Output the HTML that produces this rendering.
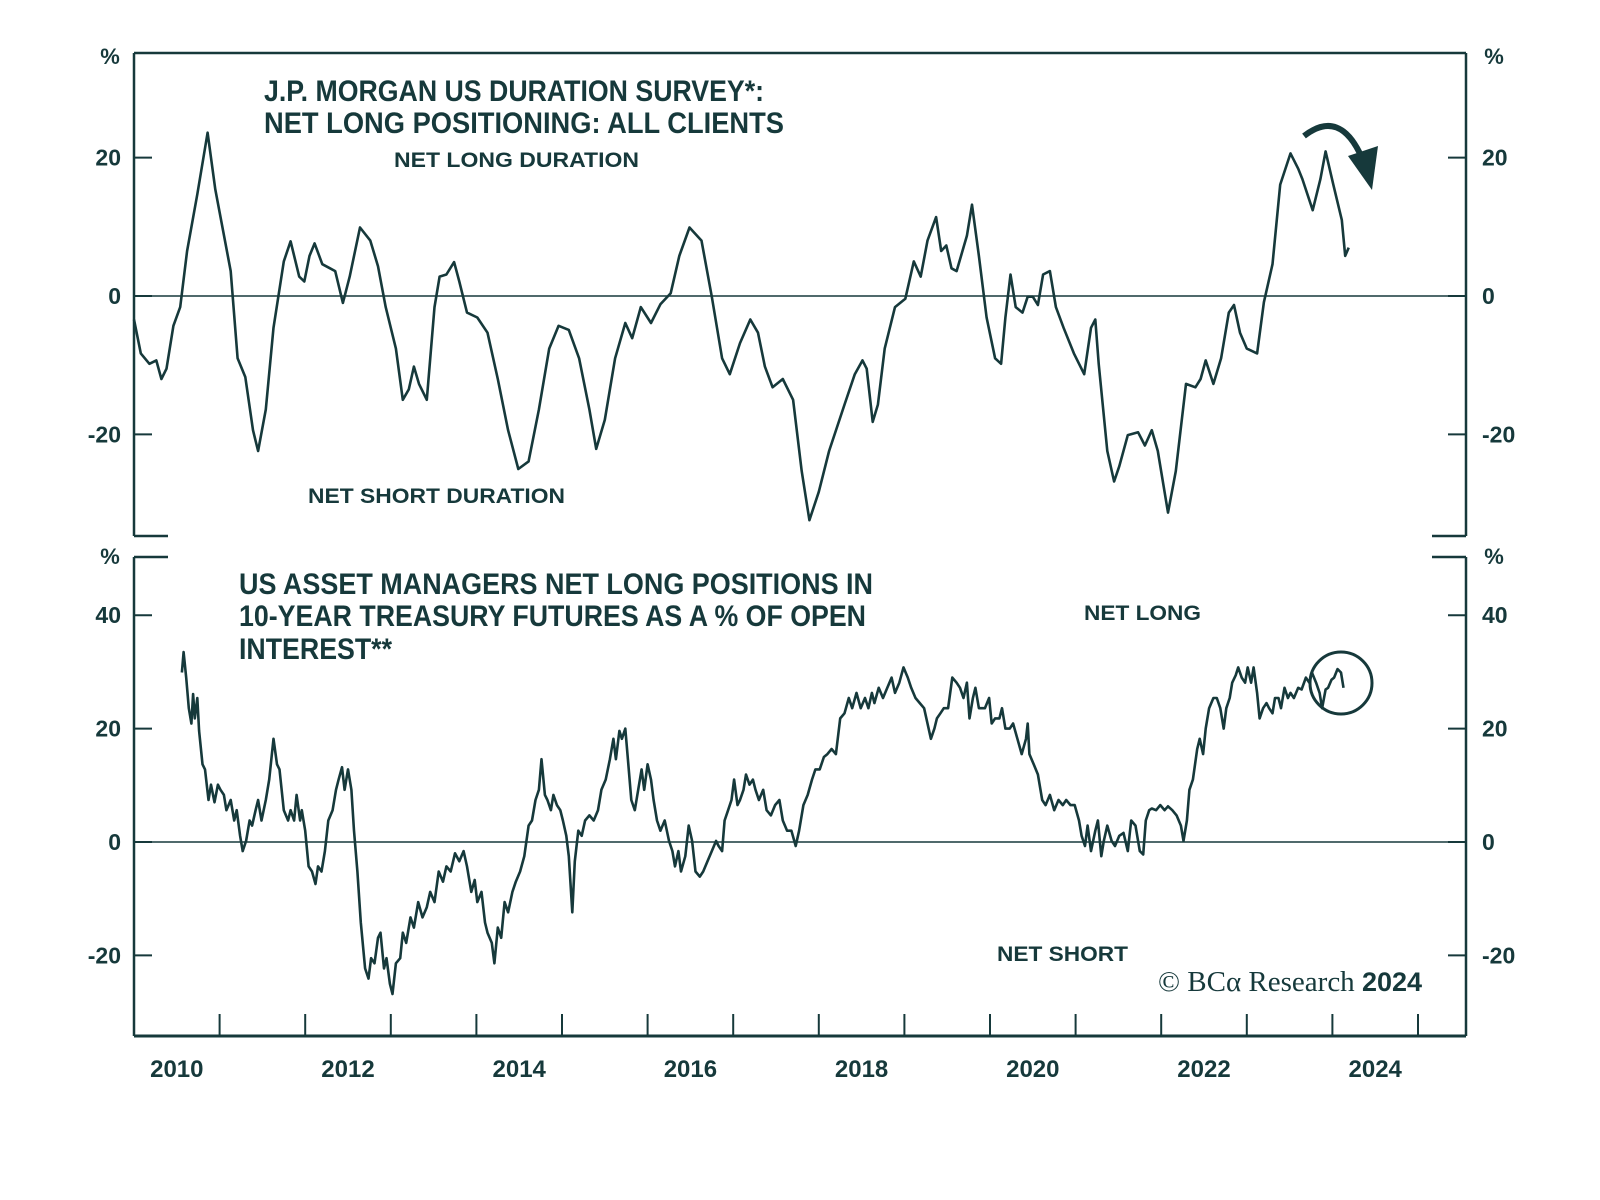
<!DOCTYPE html>
<html><head><meta charset="utf-8"><style>
html,body{margin:0;padding:0;background:#fff;}
svg{display:block;}
text{fill:#16393b;font-family:"Liberation Sans",sans-serif;font-weight:bold;}
</style></head><body>
<svg id="chart" width="1600" height="1200" viewBox="0 0 1600 1200" xmlns="http://www.w3.org/2000/svg">
<g id="frame"></g>
<g id="texts">
<text x="264" y="101" font-size="30" textLength="500" lengthAdjust="spacingAndGlyphs">J.P. MORGAN US DURATION SURVEY*:</text>
<text x="264" y="133" font-size="30" textLength="520" lengthAdjust="spacingAndGlyphs">NET LONG POSITIONING: ALL CLIENTS</text>
<text x="394" y="167" font-size="21" textLength="245" lengthAdjust="spacingAndGlyphs">NET LONG DURATION</text>
<text x="308" y="503" font-size="21" textLength="257" lengthAdjust="spacingAndGlyphs">NET SHORT DURATION</text>
<text x="239" y="594" font-size="30" textLength="634" lengthAdjust="spacingAndGlyphs">US ASSET MANAGERS NET LONG POSITIONS IN</text>
<text x="239" y="626" font-size="30" textLength="627" lengthAdjust="spacingAndGlyphs">10-YEAR TREASURY FUTURES AS A % OF OPEN</text>
<text x="239" y="659" font-size="30" textLength="153" lengthAdjust="spacingAndGlyphs">INTEREST**</text>
<text x="1084" y="620" font-size="21" textLength="117" lengthAdjust="spacingAndGlyphs">NET LONG</text>
<text x="997" y="961" font-size="21" textLength="131" lengthAdjust="spacingAndGlyphs">NET SHORT</text>
<text x="1158" y="991" font-size="29" style="font-family:'Liberation Serif',serif;font-weight:normal">© BCα Research <tspan style="font-family:'Liberation Sans',sans-serif;font-weight:bold" font-size="27">2024</tspan></text>
</g>
<g id="annot">
<path d="M1304,136 Q1340,108 1362,158" fill="none" stroke="#16393b" stroke-width="6"/>
<polygon points="1348,156 1378,146 1372,190" fill="#16393b"/>
<circle cx="1341" cy="683" r="31" fill="none" stroke="#16393b" stroke-width="3"/>
</g>
<g id="series"></g>
</svg>
<script>
const topDates=[2010.00,2010.08,2010.18,2010.26,2010.32,2010.38,2010.46,2010.54,2010.62,2010.74,2010.86,2010.95,2011.04,2011.13,2011.21,2011.30,2011.39,2011.45,2011.54,2011.63,2011.75,2011.83,2011.93,2011.99,2012.05,2012.11,2012.20,2012.29,2012.35,2012.44,2012.52,2012.64,2012.76,2012.85,2012.94,2013.06,2013.14,2013.21,2013.27,2013.33,2013.42,2013.51,2013.57,2013.65,2013.74,2013.80,2013.89,2014.01,2014.13,2014.25,2014.37,2014.49,2014.61,2014.73,2014.85,2014.96,2015.08,2015.20,2015.32,2015.40,2015.50,2015.62,2015.74,2015.82,2015.92,2016.04,2016.15,2016.27,2016.37,2016.49,2016.63,2016.75,2016.87,2016.96,2017.08,2017.20,2017.29,2017.37,2017.46,2017.58,2017.70,2017.80,2017.89,2018.00,2018.12,2018.30,2018.42,2018.51,2018.56,2018.63,2018.69,2018.77,2018.89,2019.01,2019.11,2019.19,2019.27,2019.37,2019.43,2019.49,2019.55,2019.61,2019.73,2019.79,2019.87,2019.96,2020.06,2020.13,2020.18,2020.24,2020.30,2020.38,2020.44,2020.50,2020.56,2020.62,2020.70,2020.77,2020.86,2020.98,2021.10,2021.18,2021.23,2021.27,2021.37,2021.45,2021.51,2021.61,2021.73,2021.81,2021.89,2021.96,2022.08,2022.17,2022.29,2022.40,2022.46,2022.52,2022.61,2022.70,2022.79,2022.85,2022.92,2023.00,2023.12,2023.20,2023.30,2023.39,2023.51,2023.60,2023.65,2023.77,2023.86,2023.92,2024.01,2024.11,2024.15,2024.19];
const topValues=[-3.4,-8.3,-9.8,-9.3,-12.0,-10.5,-4.3,-1.6,6.5,14.7,23.6,15.4,9.5,3.6,-9.0,-11.7,-19.4,-22.4,-16.4,-4.6,5.0,7.9,2.8,2.1,5.8,7.6,4.6,4.0,3.6,-1.0,2.8,9.9,8.0,4.3,-1.6,-7.6,-15.0,-13.5,-10.2,-12.7,-15.0,-1.6,2.8,3.1,4.9,2.1,-2.4,-3.1,-5.3,-12.0,-19.4,-25.0,-23.9,-16.4,-7.6,-4.3,-4.9,-9.0,-16.4,-22.1,-17.9,-9.0,-3.9,-6.1,-1.6,-3.9,-1.2,0.4,5.8,9.9,8.0,-0.1,-9.0,-11.3,-6.8,-3.4,-5.3,-10.2,-13.2,-12.0,-15.0,-25.3,-32.4,-28.3,-22.4,-15.7,-11.3,-9.3,-10.5,-18.2,-15.7,-7.6,-1.6,-0.4,5.0,2.8,8.0,11.4,6.5,7.3,4.0,3.6,8.7,13.2,5.8,-3.1,-9.0,-9.8,-3.1,3.1,-1.6,-2.4,-0.1,-0.1,-1.3,3.1,3.6,-1.6,-4.6,-8.3,-11.3,-4.6,-3.4,-9.8,-22.4,-26.8,-24.6,-20.1,-19.7,-21.6,-19.4,-22.4,-31.3,-25.3,-12.7,-13.2,-12.0,-9.3,-12.7,-9.0,-2.4,-1.3,-5.3,-7.6,-8.3,-0.9,4.6,16.1,20.6,18.4,16.9,12.4,16.9,20.9,16.1,11.0,5.8,7.0];
const bottomYearOffset=[0.56,0.58,0.61,0.64,0.67,0.69,0.71,0.74,0.76,0.80,0.83,0.87,0.90,0.94,0.98,1.01,1.05,1.08,1.13,1.17,1.20,1.24,1.27,1.31,1.35,1.38,1.42,1.45,1.49,1.54,1.58,1.63,1.67,1.70,1.75,1.80,1.83,1.87,1.90,1.94,1.96,2.00,2.04,2.08,2.12,2.15,2.19,2.23,2.27,2.32,2.36,2.39,2.43,2.46,2.50,2.54,2.57,2.61,2.65,2.70,2.74,2.77,2.81,2.85,2.88,2.92,2.95,2.99,3.02,3.06,3.11,3.14,3.18,3.23,3.27,3.32,3.37,3.42,3.46,3.51,3.56,3.61,3.65,3.70,3.75,3.80,3.85,3.89,3.94,3.98,4.01,4.06,4.10,4.13,4.18,4.21,4.25,4.29,4.33,4.37,4.42,4.46,4.51,4.56,4.61,4.65,4.69,4.73,4.76,4.80,4.83,4.87,4.90,4.94,4.98,5.01,5.05,5.08,5.12,5.15,5.19,5.23,5.27,5.32,5.37,5.42,5.46,5.51,5.56,5.60,5.63,5.67,5.70,5.74,5.77,5.81,5.85,5.89,5.93,5.96,6.00,6.04,6.07,6.11,6.15,6.20,6.25,6.29,6.32,6.36,6.39,6.44,6.48,6.52,6.56,6.61,6.65,6.70,6.75,6.80,6.83,6.87,6.90,6.94,6.98,7.01,7.05,7.08,7.12,7.15,7.19,7.23,7.26,7.30,7.35,7.39,7.44,7.49,7.54,7.58,7.63,7.68,7.73,7.77,7.82,7.87,7.92,7.96,8.01,8.06,8.10,8.15,8.20,8.25,8.30,8.35,8.39,8.44,8.49,8.54,8.58,8.62,8.65,8.70,8.75,8.80,8.85,8.89,8.94,8.99,9.04,9.08,9.13,9.18,9.23,9.27,9.31,9.35,9.38,9.42,9.46,9.51,9.56,9.61,9.65,9.69,9.73,9.76,9.80,9.83,9.87,9.90,9.94,9.99,10.02,10.06,10.11,10.14,10.18,10.23,10.27,10.32,10.37,10.42,10.44,10.46,10.51,10.56,10.61,10.65,10.70,10.75,10.80,10.85,10.89,10.94,10.99,11.04,11.07,11.11,11.14,11.18,11.23,11.26,11.30,11.33,11.37,11.42,11.46,11.51,11.56,11.61,11.65,11.70,11.75,11.79,11.82,11.86,11.89,11.94,11.99,12.04,12.08,12.13,12.18,12.23,12.26,12.30,12.33,12.37,12.42,12.45,12.49,12.52,12.56,12.61,12.65,12.69,12.73,12.76,12.80,12.83,12.87,12.90,12.94,12.98,13.01,13.05,13.08,13.12,13.15,13.19,13.23,13.26,13.30,13.33,13.37,13.40,13.44,13.48,13.51,13.55,13.60,13.64,13.69,13.73,13.76,13.81,13.85,13.88,13.92,13.95,13.99,14.02,14.06,14.10,14.13];
const bottomValues=[29.9,33.5,29.0,23.6,20.9,26.1,21.8,25.4,19.6,13.7,12.8,7.4,10.1,7.0,10.1,9.2,8.3,5.6,7.4,3.8,5.6,1.1,-1.6,0.2,3.8,2.9,5.6,7.4,3.8,7.4,11.0,18.2,13.7,12.8,5.6,3.8,5.6,3.8,8.3,3.8,5.6,2.0,-4.3,-5.2,-7.4,-4.3,-5.2,-1.6,3.8,5.6,9.2,11.0,13.2,9.2,12.8,9.2,2.0,-5.2,-14.2,-22.3,-24.1,-20.5,-21.4,-16.9,-16.0,-22.3,-20.5,-25.0,-26.8,-21.4,-20.5,-16.0,-17.8,-13.3,-15.1,-10.6,-13.3,-11.5,-8.8,-10.6,-5.2,-7.0,-4.3,-5.2,-2.0,-3.4,-1.6,-4.3,-8.8,-6.7,-10.6,-8.8,-14.2,-16.0,-17.8,-21.4,-15.1,-16.9,-10.6,-12.4,-8.8,-7.0,-5.2,-2.5,2.9,3.8,7.4,9.2,14.6,8.3,7.4,5.6,8.3,6.5,5.6,3.8,1.1,-2.5,-12.4,-3.4,2.0,1.1,3.8,4.7,3.8,5.6,9.2,11.0,14.6,18.2,14.6,19.6,18.2,20.0,14.6,7.4,5.6,9.2,12.8,9.2,13.7,11.0,7.4,3.8,2.0,3.8,0.2,-1.6,-4.3,-1.6,-5.2,-2.5,2.9,0.2,-5.2,-6.1,-5.2,-3.4,-1.6,0.2,-0.7,-1.6,3.8,5.6,7.4,11.0,6.5,7.4,9.2,11.9,10.1,11.0,9.2,7.4,9.2,5.6,4.7,6.5,7.4,3.8,2.0,2.0,-0.7,2.0,6.5,8.3,11.0,12.8,12.8,15.0,15.5,16.4,15.5,21.8,22.7,25.4,23.6,26.3,23.6,25.4,23.6,26.3,24.5,27.2,25.4,27.2,29.0,26.3,28.1,30.8,29.0,27.2,25.4,24.5,23.6,20.9,18.2,20.0,21.8,22.7,23.6,23.6,29.0,28.1,27.2,25.4,28.1,21.8,25.4,27.2,23.6,23.6,23.6,25.4,20.9,21.8,21.8,23.6,20.0,20.0,20.9,18.2,15.5,18.2,20.9,15.5,13.7,11.9,7.4,6.5,8.3,5.6,7.4,6.5,7.4,6.5,6.5,3.8,1.1,-0.7,2.9,-1.6,2.0,3.8,-2.5,0.2,2.9,0.2,-0.7,1.1,1.6,-1.6,3.8,2.9,-1.6,-2.2,3.8,5.6,5.9,5.6,6.5,5.6,6.3,5.6,4.7,2.9,0.2,3.8,9.2,11.0,16.4,18.2,15.5,20.0,23.6,25.4,25.4,23.6,20.0,23.6,25.4,28.1,29.4,30.8,29.0,28.1,30.8,28.1,30.8,26.3,21.8,23.6,24.5,23.6,22.7,25.4,25.4,23.6,27.2,25.4,26.3,25.4,27.2,26.9,29.0,28.1,29.9,28.1,26.3,23.6,26.9,27.2,28.6,29.0,30.5,29.9,27.2];
const xTickYears=[2011,2012,2013,2014,2015,2016,2017,2018,2019,2020,2021,2022,2023,2024,2025];
const xLabelYears=[2010,2012,2014,2016,2018,2020,2022,2024];
const topYTicks=[20,0,-20];
const bottomYTicks=[40,20,0,-20];

const NS='http://www.w3.org/2000/svg';
const C='#16393b';
const L=134,R=1466;
const TT=53,TB=536,BT=557,BB=1036;
function xs(yr){return L+(yr-2010)*85.6;}
function ysTop(v){return 296-v*6.92;}
function ysBot(v){return 842-v*5.67;}
function mk(tag,attrs,parent){const e=document.createElementNS(NS,tag);for(const k in attrs)e.setAttribute(k,attrs[k]);parent.appendChild(e);return e;}
const frame=document.getElementById('frame');
const texts=document.getElementById('texts');
const series=document.getElementById('series');
function line(x1,y1,x2,y2,w,name){const e=mk('line',{x1:x1,y1:y1,x2:x2,y2:y2,stroke:C,'stroke-width':w},frame);

return e;}
line(L,TT,R,TT,2.5,'top-border');
line(L,TT,L,TB,2.5,'left-border-top');
line(R,TT,R,TB,2.5,'right-border-top');
line(L,TB,L+34,TB,2.5,'top-panel-stub-left');
line(R-34,TB,R,TB,2.5,'top-panel-stub-right');
line(L,BT,L+34,BT,2.5,'bottom-panel-stub-left');
line(R-34,BT,R,BT,2.5,'bottom-panel-stub-right');
line(L,BT,L,BB,2.5,'left-border-bottom');
line(R,BT,R,BB,2.5,'right-border-bottom');
line(L,BB,R,BB,3,'x-axis-line');
line(L,ysTop(0),R,ysTop(0),1.5,'top-zero-line');
line(L,ysBot(0),R,ysBot(0),1.5,'bottom-zero-line');
function txt(x,y,s,anchor,size,name){const e=mk('text',{x:x,y:y,'text-anchor':anchor,'font-size':size},texts);e.textContent=s;

return e;}
topYTicks.forEach(v=>{const y=ysTop(v);
line(L,y,L+18,y,2,'top-y-tick-left');line(R-18,y,R,y,2,'top-y-tick-right');
txt(121,y+8,String(v),'end',23,'top-y-label-left');txt(1482,y+8,String(v),'start',23,'top-y-label-right');});
bottomYTicks.forEach(v=>{const y=ysBot(v);
line(L,y,L+18,y,2,'bottom-y-tick-left');line(R-18,y,R,y,2,'bottom-y-tick-right');
txt(121,y+8,String(v),'end',23,'bottom-y-label-left');txt(1482,y+8,String(v),'start',23,'bottom-y-label-right');});
txt(110,64,'%','middle',22,'top-unit-left');txt(1494,64,'%','middle',22,'top-unit-right');
txt(110,564,'%','middle',22,'bottom-unit-left');txt(1494,564,'%','middle',22,'bottom-unit-right');
xTickYears.forEach(yr=>{const x=xs(yr);line(x,BB,x,BB-22,2,'x-tick');});
xLabelYears.forEach(yr=>{txt(xs(yr+0.5),1077,String(yr),'middle',24,'x-label');});
function path(dates,vals,ys,off,name){let d='';for(let i=0;i<vals.length;i++){d+=(i?'L':'M')+xs(dates[i]+off).toFixed(1)+','+ys(vals[i]).toFixed(1);}
const p=mk('path',{d:d,fill:'none',stroke:C,'stroke-width':2.6,'stroke-linejoin':'round'},series);

}
path(topDates,topValues,ysTop,0,'duration-survey-line');
path(bottomYearOffset,bottomValues,ysBot,2010,'asset-managers-line');
</script>
</body></html>
